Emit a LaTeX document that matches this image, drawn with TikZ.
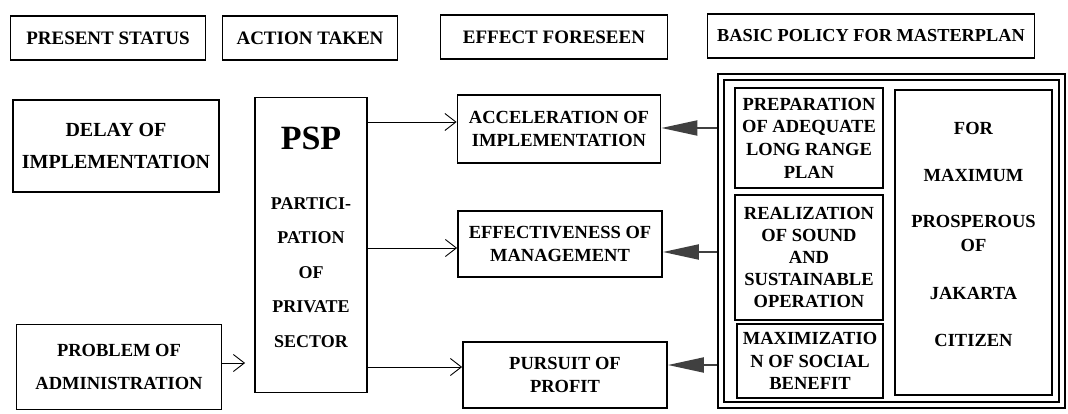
\documentclass[tikz,border=0pt]{standalone}
\usepackage{fontspec}
\setmainfont{Liberation Serif}
\usetikzlibrary{arrows.meta}
\definecolor{TipClr}{gray}{0.25}

\begin{document}
\begin{tikzpicture}[x=1pt,y=-1pt,
  box/.style={draw,line width=1.8pt,inner sep=0pt,align=center,
    font=\bfseries\fontsize{18.5}{23}\selectfont},
  headbox/.style={box,line width=1.3pt,font=\bfseries\fontsize{19}{22}\selectfont},
  txt/.style={inner sep=0pt,align=center,font=\bfseries\fontsize{18.5}{23}\selectfont},
  openarr/.style={line width=0.9pt,-{Straight Barb[length=11pt,width=17pt,line width=0.9pt]}},
  fillarr/.style={line width=2pt,TipClr,-{Triangle[length=36pt,width=15pt]}}]
\useasboundingbox (0,0) rectangle (1068,414);

% headers
\node[headbox,minimum width=195pt,minimum height=44pt] (hstatus) at (108,38) {PRESENT STATUS};
\node[headbox,minimum width=175pt,minimum height=44pt] (haction) at (310,38) {ACTION TAKEN};
\node[headbox,minimum width=227pt,minimum height=44pt] (heffect) at (554,37) {EFFECT FORESEEN};
\node[headbox,minimum width=327pt,minimum height=44pt,font=\bfseries\fontsize{18.3}{22}\selectfont] (hpolicy) at (871,36) {BASIC POLICY FOR MASTERPLAN};

% present status
\node[box,minimum width=206pt,minimum height=92pt,font=\bfseries\fontsize{20}{24}\selectfont] (delay) at (116,146) {DELAY OF\\[8pt]IMPLEMENTATION};
\node[box,minimum width=205pt,minimum height=85pt] (problem) at (119,367) {PROBLEM OF\\[10pt]ADMINISTRATION};

% action taken
\node[box,minimum width=112pt,minimum height=295pt] (psp) at (311,245) {};
\node[txt,font=\bfseries\fontsize{34}{36}\selectfont] (psptitle) at (311,138) {PSP};
\node[txt,anchor=north,font=\bfseries\fontsize{18}{34.5}\selectfont] (psptext) at (311,197) {PARTICI-\\PATION\\OF\\PRIVATE\\SECTOR};

% effect foreseen
\node[box,minimum width=203pt,minimum height=68pt] (accel) at (559,129) {ACCELERATION OF\\IMPLEMENTATION};
\node[box,minimum width=204pt,minimum height=66pt] (effect) at (560,244) {EFFECTIVENESS OF\\MANAGEMENT};
\node[box,minimum width=204pt,minimum height=66pt] (pursuit) at (565,375) {PURSUIT OF\\PROFIT};

% basic policy
\node[draw,line width=1.8pt,minimum width=347pt,minimum height=334pt] (frame) at (891.5,241) {};
\node[draw,line width=1.8pt,minimum width=335pt,minimum height=322pt] (inframe) at (891.5,241) {};
\node[box,minimum width=148pt,minimum height=100pt,font=\bfseries\fontsize{18.5}{22.7}\selectfont] (prep) at (809,138) {PREPARATION\\OF ADEQUATE\\LONG RANGE\\PLAN};
\node[box,minimum width=148pt,minimum height=125pt,font=\bfseries\fontsize{18.5}{21.8}\selectfont] (real) at (809,257.5) {REALIZATION\\OF SOUND\\AND\\SUSTAINABLE\\OPERATION};
\node[box,minimum width=146pt,minimum height=74pt,font=\bfseries\fontsize{18.5}{22.5}\selectfont] (maxi) at (810,361) {MAXIMIZATIO\\N OF SOCIAL\\BENEFIT};
\node[box,minimum width=157pt,minimum height=305pt] (citizen) at (973.5,242.5) {};
\node[txt,anchor=north,font=\bfseries\fontsize{18.5}{22}\selectfont] (citizentext) at (973.5,122)
  {FOR\\[25pt]MAXIMUM\\[24pt]PROSPEROUS\\[2pt]OF\\[26pt]JAKARTA\\[25pt]CITIZEN};

% connectors
\draw[openarr] ([yshift=7pt]accel.west -| psp.east) -- ([yshift=7pt]accel.west);
\draw[openarr] ([yshift=-4pt]effect.west -| psp.east) -- ([yshift=-4pt]effect.west);
\draw[openarr] ([yshift=8pt]pursuit.west -| psp.east) -- ([yshift=8pt]pursuit.west);
\draw[openarr,shorten >=9pt] ([yshift=4pt]problem.east) -- ([yshift=4pt]problem.east -| psp.west);

\draw[fillarr] ([yshift=1pt]frame.west |- accel.east) -- ([yshift=1pt]accel.east);
\draw[fillarr] ([yshift=-8pt]frame.west |- effect.east) -- ([yshift=-8pt]effect.east);
\draw[fillarr] ([yshift=10pt]frame.west |- pursuit.east) -- ([yshift=10pt]pursuit.east);
\end{tikzpicture}
\end{document}
